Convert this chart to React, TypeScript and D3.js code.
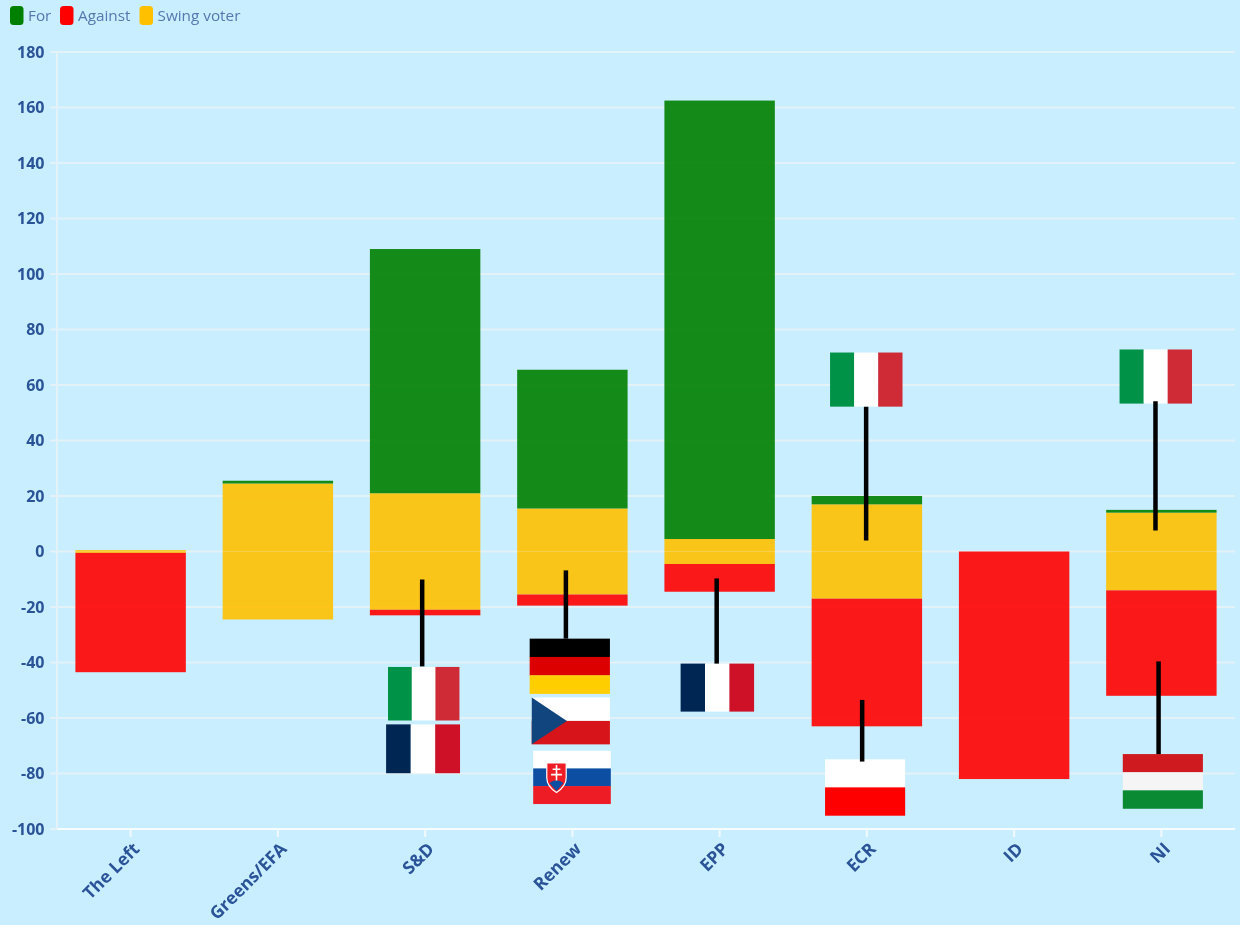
import React from "react";
import * as d3 from "d3";

const groups = ["The Left", "Greens/EFA", "S&D", "Renew", "EPP", "ECR", "ID", "NI"];
const forVotes = [0, 1, 88, 50, 158, 3, 0, 1];
const againstVotes = [43, 0, 2, 4, 10, 46, 82, 38];
const swingVotes = [1, 49, 42, 31, 9, 34, 0, 28];
const yTicks = d3.range(-100, 181, 20);
const legendLabels = ["For", "Against", "Swing voter"];
const legendColors = ["#008000", "#ff0000", "#ffc000"];

// group, country, offset range across the band, value range
const flagGroup = ["S&D", "S&D", "Renew", "Renew", "Renew", "EPP", "ECR", "NI", "ECR", "NI"];
const flagCountry = ["IT", "FR", "DE", "CZ", "SK", "FR", "PL", "HU", "IT", "IT"];
const flagX0 = [-0.252, -0.265, -0.29, -0.276, -0.266, -0.265, -0.284, -0.262, -0.25, -0.284];
const flagX1 = [0.231, 0.235, 0.255, 0.255, 0.261, 0.232, 0.26, 0.282, 0.24, 0.206];
const flagTop = [-41.6, -62.3, -31.4, -52.6, -71.8, -40.4, -74.9, -73, 71.7, 72.8];
const flagBottom = [-60.9, -79.9, -51.2, -69.5, -90.9, -57.7, -95.1, -92.6, 52.2, 53.3];

const leaderGroup = ["S&D", "Renew", "EPP", "ECR", "ECR", "NI", "NI"];
const leaderOffset = [-0.02, -0.044, -0.02, -0.005, -0.032, -0.04, -0.019];
const leaderFrom = [-10.1, -6.8, -9.7, 52.2, -53.5, 54.1, -39.6];
const leaderTo = [-41.4, -31.4, -40.4, 4, -75.7, 7.6, -73];

const stripesV: Record<string, string[]> = {
  IT: ["#009246", "#ffffff", "#ce2b37"],
  FR: ["#002654", "#ffffff", "#ce1126"],
};
const stripesH: Record<string, string[]> = {
  DE: ["#000000", "#dd0000", "#ffce00"],
  SK: ["#ffffff", "#0b4ea2", "#ee1c25"],
  HU: ["#cf1a20", "#f5f5f5", "#0a8a33"],
  PL: ["#ffffff", "#ff0000"],
};

const W = 1240, H = 925;
const x = d3.scaleBand<string>().domain(groups).range([57, 1235]);
const y = d3.scaleLinear().domain([-100, 180]).range([829, 52]);
const font = "'Open Sans', 'Noto Sans', sans-serif";
const BG = "#c9eeff";
const GRID = "#e3f2f8";

const rows = groups.map((g, i) => ({
  group: g,
  swingUp: swingVotes[i] / 2,
  forV: forVotes[i],
  swingDown: -swingVotes[i] / 2,
  againstV: -againstVotes[i],
}));
const stack = d3.stack<any>()
  .keys(["swingUp", "forV", "swingDown", "againstV"])
  .offset(d3.stackOffsetDiverging);
const layers = stack(rows);
const layerColor: Record<string, string> = {
  swingUp: "#ffc000", swingDown: "#ffc000", forV: "#008000", againstV: "#ff0000",
};

function Flag({ country, x0, x1, y0, y1 }: { country: string; x0: number; x1: number; y0: number; y1: number }) {
  const w = x1 - x0, h = y1 - y0;
  if (stripesV[country]) {
    const c = stripesV[country];
    return <g>{c.map((col, i) => <rect key={i} x={x0 + (w * i) / 3} y={y0} width={w / 3 + 0.3} height={h} fill={col} />)}</g>;
  }
  if (stripesH[country]) {
    const c = stripesH[country];
    return (
      <g>
        {c.map((col, i) => <rect key={i} x={x0} y={y0 + (h * i) / c.length} width={w} height={h / c.length + 0.3} fill={col} />)}
        {country === "SK" && (
          <g transform={`translate(${x0 + w * 0.3},${y0 + h * 0.23})`}>
            <path d={`M${-w * 0.125},0 H${w * 0.125} V${h * 0.28} Q${w * 0.125},${h * 0.44} 0,${h * 0.56} Q${-w * 0.125},${h * 0.44} ${-w * 0.125},${h * 0.28} Z`} fill="#ee1c25" stroke="#fff" strokeWidth={1.2} />
            <path d={`M${-w * 0.09},${h * 0.38} Q0,${h * 0.27} ${w * 0.09},${h * 0.38} L0,${h * 0.53} Z`} fill="#0b4ea2" />
            <path d={`M0,${h * 0.04} V${h * 0.33} M${-w * 0.05},${h * 0.12} H${w * 0.05} M${-w * 0.07},${h * 0.22} H${w * 0.07}`} stroke="#fff" strokeWidth={1.6} fill="none" />
          </g>
        )}
      </g>
    );
  }
  // CZ
  return (
    <g>
      <rect x={x0} y={y0} width={w} height={h / 2} fill="#ffffff" />
      <rect x={x0} y={y0 + h / 2} width={w} height={h / 2} fill="#d7141a" />
      <path d={`M${x0},${y0} L${x0 + w * 0.45},${y0 + h / 2} L${x0},${y1} Z`} fill="#11457e" />
    </g>
  );
}

export default function App() {
  const bw = x.bandwidth();
  const barW = bw * 0.75;
  const center = (g: string) => (x(g) as number) + bw / 2;
  const legendX = [10, 60, 139.5];
  return (
    <svg width={W} height={H} viewBox={`0 0 ${W} ${H}`}
      style={{ position: "absolute", left: 0, top: 0, display: "block", background: BG, filter: "blur(0.7px)" }}
      fontFamily={font}>
      <rect width={W} height={H} fill={BG} />
      {/* grid */}
      {yTicks.map((t) => (
        <g key={t}>
          <line x1={57} x2={1235} y1={y(t)} y2={y(t)} stroke={t === -100 ? "#f6fcff" : GRID} strokeWidth={2} />
          <line x1={50} x2={57} y1={y(t)} y2={y(t)} stroke={GRID} strokeWidth={2} />
          <text x={44.5} y={y(t)} dy="0.36em" textAnchor="end" fontSize={16} fontWeight={700} fill="#2a5398">{t}</text>
        </g>
      ))}
      <line x1={57} x2={57} y1={52} y2={829} stroke={GRID} strokeWidth={2} />
      {/* bars */}
      {layers.map((layer) => (
        <g key={layer.key} fill={layerColor[layer.key]} fillOpacity={0.9}>
          {layer.map((d, i) => {
            const top = y(Math.max(d[0], d[1]));
            const bot = y(Math.min(d[0], d[1]));
            if (bot - top <= 0) return null;
            return <rect key={i} x={center(groups[i]) - barW / 2} y={top} width={barW} height={bot - top} />;
          })}
        </g>
      ))}
      {/* x axis */}
      {groups.map((g) => (
        <g key={g} transform={`translate(${center(g)},829)`}>
          <line y1={0} y2={8} stroke="#f0f9fd" strokeWidth={2} />
          <text transform="translate(10,21) rotate(-45)" textAnchor="end" fontSize={17.5} fontWeight={700} fill="#2a5398">{g}</text>
        </g>
      ))}
      {/* flags and leaders */}
      {flagCountry.map((c, i) => (
        <Flag key={i} country={c}
          x0={center(flagGroup[i]) + flagX0[i] * bw}
          x1={center(flagGroup[i]) + flagX1[i] * bw}
          y0={y(flagTop[i])} y1={y(flagBottom[i])} />
      ))}
      {leaderGroup.map((g, i) => (
        <line key={i}
          x1={center(g) + leaderOffset[i] * bw} x2={center(g) + leaderOffset[i] * bw}
          y1={y(leaderFrom[i])} y2={y(leaderTo[i])}
          stroke="#000" strokeWidth={4.5} />
      ))}
      {/* legend */}
      {legendLabels.map((l, i) => (
        <g key={l} transform={`translate(${legendX[i]},6)`}>
          <rect width={13.5} height={19} rx={3.5} fill={legendColors[i]} />
          <text x={18} y={15} fontSize={15.3} fill="#5578ae">{l}</text>
        </g>
      ))}
    </svg>
  );
}
